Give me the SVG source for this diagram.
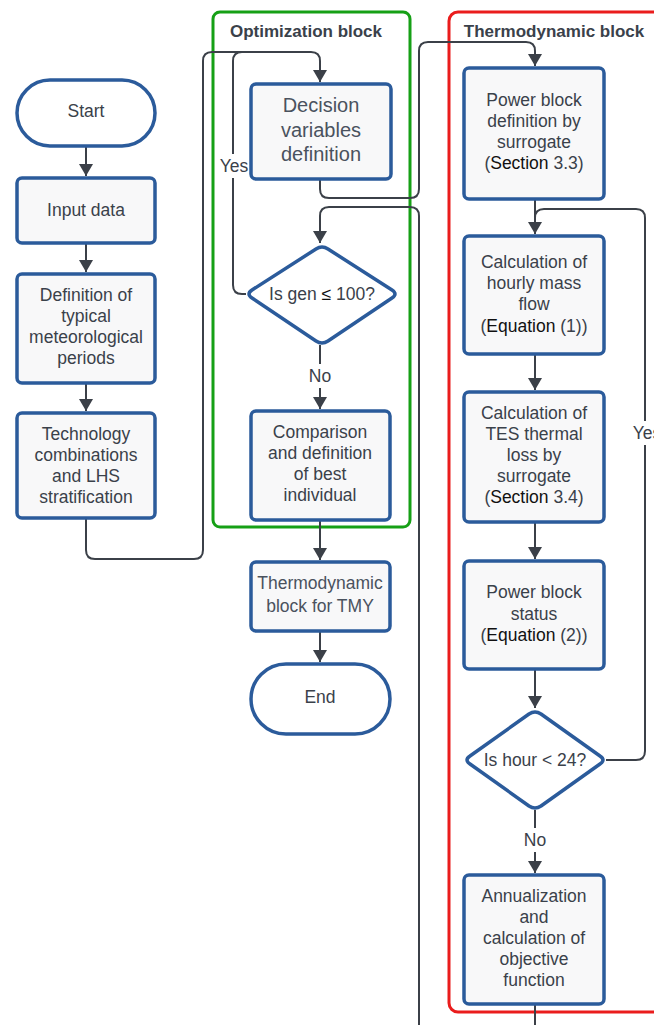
<svg xmlns="http://www.w3.org/2000/svg" width="654" height="1025" viewBox="0 0 654 1025">
<defs>
<marker id="arr" viewBox="0 0 12 14" refX="12" refY="7" markerWidth="12" markerHeight="14" markerUnits="userSpaceOnUse" orient="auto">
<path d="M0,0 L12,7 L0,14 Z" fill="#3b4048"/>
</marker>
<style>
.box{fill:#f8f8f9;stroke:#2b5b9b;stroke-width:3.5}
.term{fill:#ffffff;stroke:#2b5b9b;stroke-width:3.5}
.t{font-family:"Liberation Sans",Arial,sans-serif;font-size:17.5px;fill:#3a414a;text-anchor:middle}
.big{font-size:20px;fill:#4a525e}
.tmy{fill:#4a525e}
.k{fill:#111111}
.title{font-family:"Liberation Sans",Arial,sans-serif;font-size:17px;font-weight:bold;fill:#3a414a;text-anchor:middle}
.c{fill:none;stroke:#3b4048;stroke-width:2}
.lbl{font-family:"Liberation Sans",Arial,sans-serif;font-size:17.5px;fill:#3a414a;text-anchor:middle}
</style>
</defs>
<rect width="654" height="1025" fill="#ffffff"/>

<g id="containers">
<rect id="opt-block" x="213" y="12" width="197" height="515" rx="7" fill="none" stroke="#16a016" stroke-width="3"/>
<text class="title" x="306" y="37">Optimization block</text>
<rect id="thermo-block" x="449" y="12" width="230" height="1000" rx="9" fill="none" stroke="#ea1c1c" stroke-width="3"/>
<text class="title" x="554" y="37">Thermodynamic block</text>
</g>

<g id="connectors">
<path class="c" d="M86,146 V176" marker-end="url(#arr)"/>
<path class="c" d="M86,243 V272" marker-end="url(#arr)"/>
<path class="c" d="M86,383 V411" marker-end="url(#arr)"/>
<path class="c" d="M86,518 V550 Q86,559 95,559 H194 Q203,559 203,550 V61 Q203,52 212,52 H311 Q320,52 320,61 V82" marker-end="url(#arr)"/>
<path class="c" d="M246,294 H242 Q233,294 233,285 V61 Q233,52 242,52 H300"/>
<path class="c" d="M320,179 V189 Q320,198 329,198 H410 Q419,198 419,189 V51 Q419,42 428,42 H526 Q535,42 535,51 V66" marker-end="url(#arr)"/>
<path class="c" d="M419,1025 V216 Q419,207 410,207 H329 Q320,207 320,216 V243" marker-end="url(#arr)"/>
<path class="c" d="M320,345 V409" marker-end="url(#arr)"/>
<path class="c" d="M320,520 V560" marker-end="url(#arr)"/>
<path class="c" d="M320,631 V662" marker-end="url(#arr)"/>
<path class="c" d="M535,199 V234" marker-end="url(#arr)"/>
<path class="c" d="M606,760 H636 Q645,760 645,751 V218 Q645,209 636,209 H544 Q535,209 535,218"/>
<path class="c" d="M535,354 V390" marker-end="url(#arr)"/>
<path class="c" d="M535,522 V559" marker-end="url(#arr)"/>
<path class="c" d="M535,669 V708" marker-end="url(#arr)"/>
<path class="c" d="M535,810 V873" marker-end="url(#arr)"/>
<path class="c" d="M535,1004 V1025"/>
<rect x="218" y="154" width="32" height="24" fill="#ffffff"/>
<text class="lbl" x="234" y="172">Yes</text>
<rect x="306" y="364" width="28" height="24" fill="#ffffff"/>
<text class="lbl" x="320" y="382">No</text>
<rect x="628" y="421" width="34" height="24" fill="#ffffff"/>
<text class="lbl" x="647" y="439">Yes</text>
<rect x="521" y="828" width="28" height="24" fill="#ffffff"/>
<text class="lbl" x="535" y="846">No</text>
</g>

<g id="start">
<rect class="term" x="17" y="80" width="138" height="66" rx="33"/>
<text class="t" x="86" y="117">Start</text>
</g>
<g id="input-data">
<rect class="box" x="17" y="178" width="138" height="65" rx="5"/>
<text class="t" x="86" y="216">Input data</text>
</g>
<g id="typical-periods">
<rect class="box" x="17" y="274" width="138" height="109" rx="5"/>
<text class="t" x="86" y="301">Definition of</text>
<text class="t" x="86" y="322">typical</text>
<text class="t" x="86" y="343">meteorological</text>
<text class="t" x="86" y="364">periods</text>
</g>
<g id="technology">
<rect class="box" x="17" y="413" width="138" height="105" rx="5"/>
<text class="t" x="86" y="440">Technology</text>
<text class="t" x="86" y="461">combinations</text>
<text class="t" x="86" y="482">and LHS</text>
<text class="t" x="86" y="503">stratification</text>
</g>

<g id="decision-variables">
<rect class="box" x="251" y="84" width="140" height="95" rx="5"/>
<text class="t big" x="321" y="112">Decision</text>
<text class="t big" x="321" y="137">variables</text>
<text class="t big" x="321" y="161">definition</text>
</g>
<g id="gen-check">
<path class="term" d="M316,249 Q322,245 328,249 L392,290 Q398,294 392,298 L328,341 Q322,345 316,341 L252,298 Q246,294 252,290 Z" stroke-linejoin="round"/>
<text class="t" x="322" y="300">Is gen <tspan class="k">≤</tspan> 100?</text>
</g>
<g id="comparison">
<rect class="box" x="251" y="411" width="139" height="109" rx="5"/>
<text class="t" x="320" y="438">Comparison</text>
<text class="t" x="320" y="459">and definition</text>
<text class="t" x="320" y="480">of best</text>
<text class="t" x="320" y="501">individual</text>
</g>
<g id="tmy">
<rect class="box" x="251" y="562" width="139" height="69" rx="5"/>
<text class="t tmy" x="320" y="589">Thermodynamic</text>
<text class="t tmy" x="320" y="612">block for TMY</text>
</g>
<g id="end">
<rect class="term" x="251" y="664" width="139" height="70" rx="35"/>
<text class="t" x="320" y="703">End</text>
</g>

<g id="power-block-def">
<rect class="box" x="464" y="68" width="140" height="131" rx="5"/>
<text class="t" x="534" y="106">Power block</text>
<text class="t" x="534" y="127">definition by</text>
<text class="t" x="534" y="148">surrogate</text>
<text class="t" x="534" y="169">(<tspan class="k">Section</tspan> 3.3)</text>
</g>
<g id="mass-flow">
<rect class="box" x="464" y="236" width="140" height="118" rx="5"/>
<text class="t" x="534" y="268">Calculation of</text>
<text class="t" x="534" y="289">hourly mass</text>
<text class="t" x="534" y="310">flow</text>
<text class="t" x="534" y="332">(<tspan class="k">Equation</tspan> (1))</text>
</g>
<g id="tes-loss">
<rect class="box" x="464" y="392" width="140" height="130" rx="5"/>
<text class="t" x="534" y="419">Calculation of</text>
<text class="t" x="534" y="440">TES thermal</text>
<text class="t" x="534" y="461">loss by</text>
<text class="t" x="534" y="482">surrogate</text>
<text class="t" x="534" y="503">(<tspan class="k">Section</tspan> 3.4)</text>
</g>
<g id="power-status">
<rect class="box" x="464" y="561" width="140" height="108" rx="5"/>
<text class="t" x="534" y="598">Power block</text>
<text class="t" x="534" y="620">status</text>
<text class="t" x="534" y="641">(<tspan class="k">Equation</tspan> (2))</text>
</g>
<g id="hour-check">
<path class="term" d="M529,714 Q535,710 541,714 L600,756 Q606,760 600,764 L541,806 Q535,810 529,806 L470,764 Q464,760 470,756 Z" stroke-linejoin="round"/>
<text class="t" x="535" y="766">Is hour &lt; 24?</text>
</g>
<g id="annualization">
<rect class="box" x="464" y="875" width="140" height="129" rx="5"/>
<text class="t" x="534" y="902">Annualization</text>
<text class="t" x="534" y="923">and</text>
<text class="t" x="534" y="944">calculation of</text>
<text class="t" x="534" y="965">objective</text>
<text class="t" x="534" y="986">function</text>
</g>
</svg>
